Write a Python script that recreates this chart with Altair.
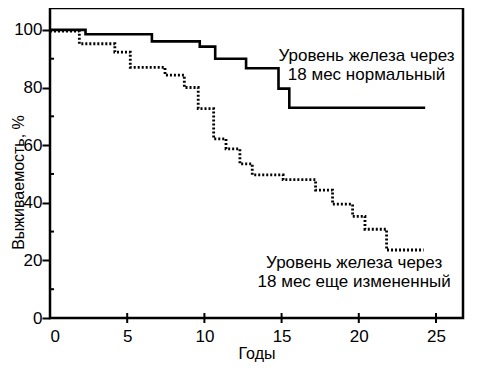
import altair as alt
import pandas as pd

# Solid curve: iron level normal at 18 months
solid_t = [0, 2.3, 6.6, 9.7, 10.7, 12.7, 14.8, 15.5, 24.3]
solid_s = [100, 98.5, 96, 94.2, 90, 86.7, 79.6, 73, 73]

# Dotted curve: iron level still changed at 18 months
dot_t = [0, 1.9, 4.2, 5.2, 7.45, 8.7, 9.6, 10.6, 11.4, 12.3, 13.1, 15.1, 17.2, 18.3, 19.6, 20.4, 21.8, 24.2]
dot_s = [99.6, 95.2, 92.3, 87, 84.3, 80, 72.7, 62.2, 58.7, 53.5, 49.7, 48, 44.4, 39.5, 35.3, 30.8, 23.6, 23.6]

label1 = ["Уровень железа через", "18 мес  нормальный"]
label2 = ["Уровень железа через", "18 мес  еще измененный"]
label1_pos = (20.5, [91, 84.2])
label2_pos = (19.7, [19.2, 12.6])

x_ticks = [0, 5, 10, 15, 20, 25]
y_ticks = [0, 20, 40, 60, 80, 100]
y_minor = [10, 30, 50, 70, 90]

XMAX = 26.75
YMAX = 107.6
FONT = "Liberation Sans"

df_solid = pd.DataFrame({"t": solid_t, "s": solid_s})
df_dot = pd.DataFrame({"t": dot_t, "s": dot_s})
df_lab = pd.DataFrame({
    "t": [label1_pos[0]] * 2 + [label2_pos[0]] * 2,
    "s": label1_pos[1] + label2_pos[1],
    "txt": label1 + label2,
})
df_xt = pd.DataFrame({"t": x_ticks[1:]})
df_ym = pd.DataFrame({"s": y_minor})

xscale = alt.Scale(domain=[0, XMAX], nice=False, zero=False)
yscale = alt.Scale(domain=[0, YMAX], nice=False, zero=False)

xenc = alt.X("t:Q", scale=xscale, axis=alt.Axis(
    values=x_ticks, title="Годы", grid=False, domain=False, ticks=False,
    labelFont=FONT, labelFontSize=17, labelColor="black", labelPadding=10,
    titleFont=FONT, titleFontSize=16, titleFontWeight="normal", titleColor="black",
    titlePadding=1))
yenc = alt.Y("s:Q", scale=yscale, axis=alt.Axis(
    values=y_ticks, title="Выживаемость, %", grid=False, domain=False,
    tickSize=8, tickWidth=2, tickColor="black",
    labelFont=FONT, labelFontSize=17, labelColor="black", labelPadding=0,
    titleFont=FONT, titleFontSize=16, titleFontWeight="normal", titleColor="black",
    titleX=-32, titleY=174, titleAlign="center", titleBaseline="middle", titleAngle=270))

solid = alt.Chart(df_solid).mark_line(
    interpolate="step-after", color="black", strokeWidth=2.6
).encode(x=xenc, y=yenc)

dotted = alt.Chart(df_dot).mark_line(
    interpolate="step-after", color="black", strokeWidth=2.8, strokeDash=[2, 2]
).encode(x="t:Q", y="s:Q")

labels = alt.Chart(df_lab).mark_text(
    font=FONT, fontSize=17, color="black", align="center", baseline="middle"
).encode(x="t:Q", y="s:Q", text="txt:N")

xt = alt.Chart(df_xt).mark_tick(
    orient="vertical", color="black", thickness=2, size=10, opacity=1
).encode(x="t:Q", y=alt.value(310))

ym = alt.Chart(df_ym).mark_rule(color="black", strokeWidth=2).encode(
    y="s:Q", x=alt.value(0), x2=alt.value(4))

chart = alt.layer(solid, dotted, labels, xt, ym).properties(
    width=413, height=310,
    autosize=alt.AutoSizeParams(type="none"),
    padding={"left": 42, "top": 0, "right": 9, "bottom": 44},
).configure(
    background="white",
    view=alt.ViewConfig(stroke="black", strokeWidth=2.5),
)

chart.save("out.html", embed_options={"renderer": "svg", "actions": False})
